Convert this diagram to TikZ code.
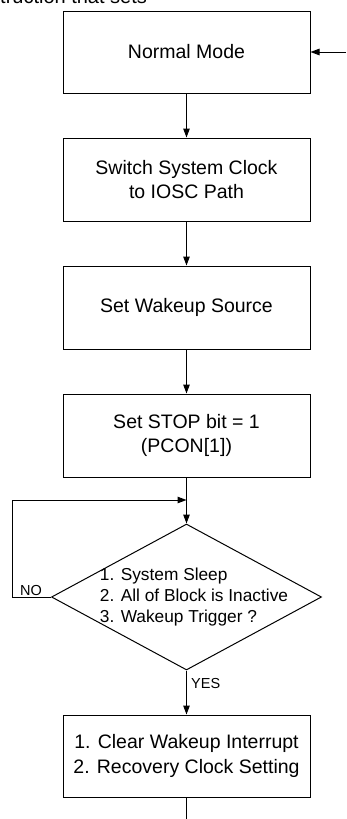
\documentclass[tikz,border=0pt]{standalone}
\usepackage{fontspec}
\setmainfont{Liberation Sans}
\usetikzlibrary{shapes.geometric,arrows.meta}
\tikzset{
  procbox/.style={draw, line width=1pt, minimum width=247pt, minimum height=83pt,
    inner sep=0pt, align=center, font=\fontsize{19.5}{24.5}\selectfont},
  decision/.style={draw, diamond, line width=1pt, minimum width=270pt,
    minimum height=146pt, inner sep=0pt},
  decisiontext/.style={align=left, inner sep=0pt, font=\fontsize{17.3}{21}\selectfont},
  flow/.style={line width=1pt, -{Triangle[length=9pt,width=6.5pt]}},
  plainline/.style={line width=1pt},
  branchlabel/.style={font=\fontsize{14.5}{17}\selectfont, inner sep=0pt},
}
\begin{document}
\begin{tikzpicture}[x=1pt,y=1pt]
\useasboundingbox (0,0) rectangle (346,-819);
% trailing line of the preceding paragraph, cut by the page edge
\begin{scope}
  \clip (0,0) rectangle (346,-819);
  \node[anchor=base west, inner sep=0pt, font=\fontsize{20}{24}\selectfont] (intro) at (0,-4) {truction that sets};
\end{scope}

% process steps
\node[procbox, minimum height=82pt] (normal) at (186.5,-52) {Normal Mode};
\node[procbox] (switch) at (186.5,-179.5) {Switch System Clock\\to IOSC Path};
\node[procbox] (wakesrc) at (186.5,-307.5) {Set Wakeup Source};
\node[procbox] (stopbit) at (186.5,-435.5) {Set STOP bit = 1\\(PCON[1])};
\node[decision] (check) at (186.5,-597) {};
\node[decisiontext] (checktext) at (194,-597) {1. System Sleep\\2. All of Block is Inactive\\3. Wakeup Trigger ?};
\node[procbox, minimum height=82pt] (recover) at (186.5,-756) {1. Clear Wakeup Interrupt\\2. Recovery Clock Setting};

% free ends and corners of the connectors
\coordinate (entry) at (346,-52);
\coordinate (merge) at (186.5,-500);
\coordinate (loopbottom) at (12,-597);
\coordinate (looptop) at (12,-500);
\coordinate (exit) at (186.5,-819);

% connectors
\draw[flow] (entry) -- (normal.east);
\draw[flow] (normal) -- (switch);
\draw[flow] (switch) -- (wakesrc);
\draw[flow] (wakesrc) -- (stopbit);
\draw[flow] (stopbit) -- (check.north);
\draw[flow] (check.west) -- (loopbottom) -- (looptop) -- (merge);
\draw[flow] (check.south) -- (recover);
\draw[plainline] (recover) -- (exit);

% branch labels
\node[branchlabel, anchor=base west] (nolabel) at (20,-595) {NO};
\node[branchlabel, anchor=base west] (yeslabel) at (191,-688) {YES};
\end{tikzpicture}
\end{document}
